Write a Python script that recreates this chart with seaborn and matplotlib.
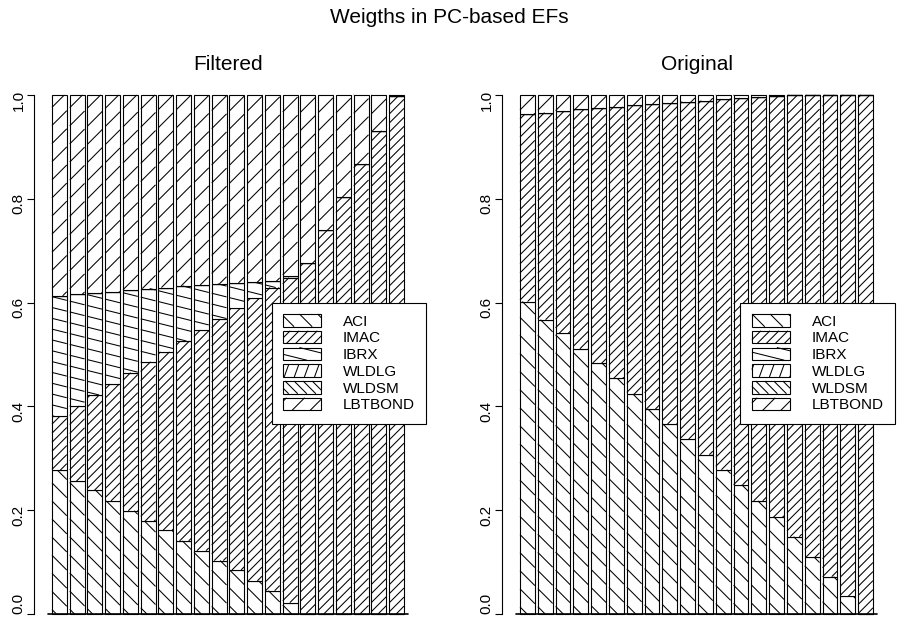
import numpy as np
import seaborn as sns
import matplotlib.pyplot as plt
from matplotlib.collections import LineCollection
from matplotlib.patches import Patch
from matplotlib.transforms import IdentityTransform

sns.set_theme(style="white")
plt.rcParams["font.family"] = ["Liberation Sans", "DejaVu Sans"]
plt.rcParams["text.color"] = "black"
plt.rcParams["ytick.color"] = "black"

assets = ["ACI", "IMAC", "IBRX", "WLDLG", "WLDSM", "LBTBOND"]
portfolios = list(range(1, 21))

# weights along the frontier
filt_aci = [0.277, 0.256, 0.238, 0.218, 0.199, 0.179, 0.161, 0.141, 0.122, 0.103,
            0.085, 0.064, 0.045, 0.022, 0.001, 0.0, 0.0, 0.0, 0.0, 0.0]
filt_imac = [0.104, 0.145, 0.184, 0.225, 0.266, 0.307, 0.344, 0.385, 0.425, 0.465,
             0.504, 0.544, 0.584, 0.626, 0.675, 0.739, 0.803, 0.867, 0.931, 0.998]
filt_ibrx = [0.232, 0.215, 0.196, 0.178, 0.159, 0.141, 0.124, 0.106, 0.087, 0.068,
             0.049, 0.031, 0.012, 0.003, 0.0, 0.0, 0.0, 0.0, 0.0, 0.0]
filt_wldlg = [0.0] * 20
filt_wldsm = [0.0] * 20
filt_lbtbond = [0.387, 0.384, 0.382, 0.379, 0.376, 0.373, 0.371, 0.368, 0.366, 0.364,
                0.362, 0.361, 0.359, 0.349, 0.324, 0.261, 0.197, 0.133, 0.069, 0.002]

orig_aci = [0.602, 0.567, 0.541, 0.511, 0.483, 0.454, 0.424, 0.395, 0.366, 0.337,
            0.307, 0.278, 0.249, 0.218, 0.186, 0.149, 0.110, 0.072, 0.034, 0.0]
orig_imac = [0.361, 0.399, 0.428, 0.461, 0.492, 0.523, 0.556, 0.587, 0.619, 0.650,
             0.682, 0.714, 0.745, 0.778, 0.812, 0.850, 0.890, 0.928, 0.966, 1.0]
orig_ibrx = [0.0] * 20
orig_wldlg = [0.0] * 20
orig_wldsm = [0.0] * 20
orig_lbtbond = [0.037, 0.034, 0.031, 0.028, 0.025, 0.023, 0.020, 0.018, 0.015, 0.013,
                0.011, 0.008, 0.006, 0.004, 0.002, 0.001, 0.0, 0.0, 0.0, 0.0]

# angle (deg) and line spacing (px) of the shading, R style
shading = {"ACI": (-45, 12.8), "IMAC": (45, 6.4), "IBRX": (-14, 10.5),
           "WLDLG": (70, 9.5), "WLDSM": (-45, 6.4), "LBTBOND": (45, 12.8)}


def hatch_segments(x0, y0, x1, y1, angle, spacing):
    a = np.deg2rad(angle)
    d = np.array([np.cos(a), np.sin(a)])
    n = np.array([-np.sin(a), np.cos(a)])
    corners = np.array([[x0, y0], [x1, y0], [x0, y1], [x1, y1]])
    proj = corners @ n
    segs = []
    for c in np.arange(np.ceil(proj.min() / spacing) * spacing, proj.max(), spacing):
        p = c * n
        tmin, tmax = -np.inf, np.inf
        ok = True
        for k, (lo, hi) in enumerate([(x0, x1), (y0, y1)]):
            if abs(d[k]) < 1e-12:
                if p[k] < lo or p[k] > hi:
                    ok = False
            else:
                t1, t2 = (lo - p[k]) / d[k], (hi - p[k]) / d[k]
                tmin = max(tmin, min(t1, t2))
                tmax = min(tmax, max(t1, t2))
        if ok and tmax > tmin:
            segs.append([p + tmin * d, p + tmax * d])
    return segs


def draw_panel(ax, weights, title):
    bottom = np.zeros(len(portfolios))
    groups = []
    for name, vals in zip(assets, weights):
        n0 = len(ax.patches)
        sns.barplot(x=portfolios, y=vals, bottom=bottom, color="white",
                    edgecolor="black", linewidth=0.8, width=1 / 1.2,
                    saturation=1, errorbar=None, ax=ax)
        groups.append((name, ax.patches[n0:]))
        bottom = bottom + np.array(vals)

    ax.set_xlim(-1.21, 20.21)
    ax.set_ylim(-0.04, 1.04)
    ax.set_xticks([])
    ax.set_yticks([0, 0.2, 0.4, 0.6, 0.8, 1.0])
    ax.set_yticklabels(["0.0", "0.2", "0.4", "0.6", "0.8", "1.0"])
    ax.tick_params(axis="y", left=True, direction="out", length=5, width=0.8,
                   labelsize=11, labelrotation=90, pad=1, colors="black")
    for s in ["top", "right", "bottom"]:
        ax.spines[s].set_visible(False)
    ax.spines["left"].set_bounds(0, 1)
    ax.spines["left"].set_color("black")
    ax.spines["left"].set_linewidth(0.8)
    ax.spines["left"].set_position(("outward", 3))
    ax.set_title(title, fontsize=15, pad=3, color="black")

    # shading lines inside each bar
    for name, bars in groups:
        ang, sp = shading[name]
        segs = []
        for b in bars:
            bb = b.get_bbox()
            if bb.height <= 0:
                continue
            (x0, y0), (x1, y1) = ax.transData.transform([[bb.x0, bb.y0], [bb.x1, bb.y1]])
            segs += hatch_segments(x0, y0, x1, y1, ang, sp)
        lc = LineCollection(segs, colors="black", linewidths=0.75,
                            transform=IdentityTransform(), zorder=2)
        ax.add_collection(lc, autolim=False)

    # baseline under the bars
    first = groups[0][1][0].get_bbox()
    last = groups[0][1][-1].get_bbox()
    ax.plot([first.x0 - 0.25, last.x1 + 0.25], [0, 0], color="black", lw=1.2, zorder=3)

    handles = [Patch(facecolor="white", edgecolor="black", linewidth=0.8, label=a)
               for a in assets]
    leg = ax.legend(handles=handles, loc="upper left", bbox_to_anchor=(11.97, 0.6),
                    bbox_transform=ax.transData, borderaxespad=0, fontsize=11,
                    handlelength=2.5, handleheight=0.9, handletextpad=1.4,
                    labelspacing=0.14, borderpad=0.75, fancybox=False,
                    framealpha=1, edgecolor="black")
    leg.get_frame().set_linewidth(0.8)
    leg.set_zorder(5)
    return leg


fig = plt.figure(figsize=(8.98, 6.3), dpi=100)
ax_f = fig.add_axes([37.9 / 898, -4.8 / 630, 380.2 / 898, 560.6 / 630])
ax_o = fig.add_axes([505.9 / 898, -4.8 / 630, 381.2 / 898, 560.6 / 630])

leg_f = draw_panel(ax_f, [filt_aci, filt_imac, filt_ibrx, filt_wldlg, filt_wldsm, filt_lbtbond], "Filtered")
leg_o = draw_panel(ax_o, [orig_aci, orig_imac, orig_ibrx, orig_wldlg, orig_wldsm, orig_lbtbond], "Original")

fig.text(0.5, 1 - 23 / 630, "Weigths in PC-based EFs", ha="center", va="baseline", fontsize=15)

# shade the legend keys the same way
fig.canvas.draw()
for leg in [leg_f, leg_o]:
    for name, p in zip(assets, leg.get_patches()):
        ang, sp = shading[name]
        bb = p.get_window_extent()
        segs = hatch_segments(bb.x0, bb.y0, bb.x1, bb.y1, ang, sp)
        lc = LineCollection(segs, colors="black", linewidths=0.75,
                            transform=IdentityTransform(), zorder=6)
        fig.add_artist(lc)

# R keeps the lowest label inside the plot, so lift "0.0" above its tick
for ax in [ax_f, ax_o]:
    ax.yaxis.get_major_ticks()[0].label1.set_verticalalignment("bottom")

fig.savefig("out.png", dpi=100)
